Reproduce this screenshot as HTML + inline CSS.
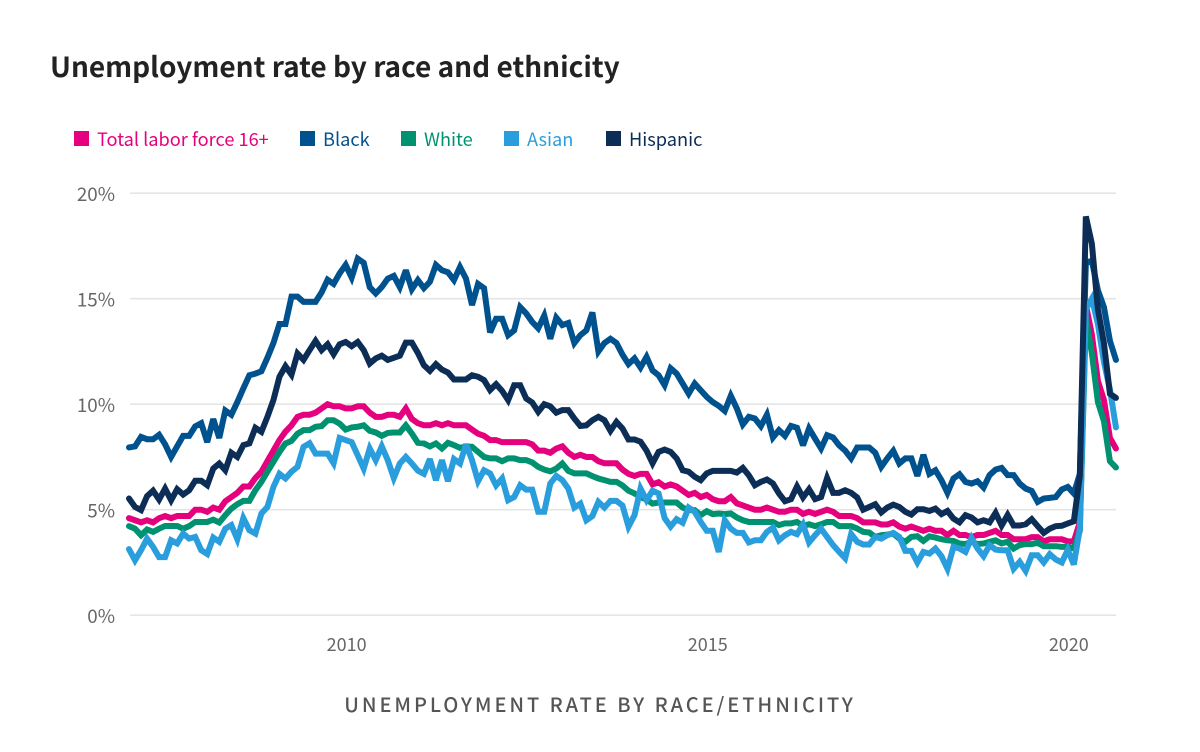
<!DOCTYPE html>
<html lang="en">
<head>
<meta charset="utf-8">
<title>Unemployment rate by race and ethnicity</title>
<style>
html,body{margin:0;padding:0;background:#fff;width:1200px;height:752px;overflow:hidden}
svg{display:block}
text{font-family:"Noto Sans CJK JP","Liberation Sans",sans-serif}
</style>
</head>
<body>
<svg id="chart" xmlns="http://www.w3.org/2000/svg" width="1200" height="752" viewBox="0 0 1200 752">
  <text x="50" y="77" font-size="28" font-weight="700" fill="#222222">Unemployment rate by race and ethnicity</text>
  <g id="grid"></g>
  <g id="yticks"></g>
  <g id="xticks"></g>
  <g id="lines"></g>
  <g id="legend"></g>
  <text x="600" y="712" text-anchor="middle" font-size="20" font-weight="500" letter-spacing="2.95" fill="#555555">UNEMPLOYMENT RATE BY RACE/ETHNICITY</text>
</svg>
<script>
var startYear = 2007;
var yTickValues = [0, 5, 10, 15, 20];
var xTickYears = [2010, 2015, 2020];
var seriesNames = ["Total labor force 16+", "Black", "White", "Asian", "Hispanic"];

var totalRates = [
4.6,4.5,4.4,4.5,4.4,4.6,4.7,4.6,4.7,4.7,4.7,5.0,
5.0,4.9,5.1,5.0,5.4,5.6,5.8,6.1,6.1,6.5,6.8,7.3,
7.8,8.3,8.7,9.0,9.4,9.5,9.5,9.6,9.8,10.0,9.9,9.9,
9.8,9.8,9.9,9.9,9.6,9.4,9.4,9.5,9.5,9.4,9.8,9.3,
9.1,9.0,9.0,9.1,9.0,9.1,9.0,9.0,9.0,8.8,8.6,8.5,
8.3,8.3,8.2,8.2,8.2,8.2,8.2,8.1,7.8,7.8,7.7,7.9,
8.0,7.7,7.5,7.6,7.5,7.5,7.3,7.2,7.2,7.2,6.9,6.7,
6.6,6.7,6.7,6.2,6.3,6.1,6.2,6.1,5.9,5.7,5.8,5.6,
5.7,5.5,5.4,5.4,5.6,5.3,5.2,5.1,5.0,5.0,5.1,5.0,
4.9,4.9,5.0,5.0,4.8,4.9,4.8,4.9,5.0,4.9,4.7,4.7,
4.7,4.6,4.4,4.4,4.4,4.3,4.3,4.4,4.2,4.1,4.2,4.1,
4.0,4.1,4.0,4.0,3.8,4.0,3.8,3.8,3.7,3.8,3.8,3.9,
4.0,3.8,3.8,3.6,3.6,3.6,3.7,3.7,3.5,3.6,3.6,3.6,
3.5,3.5,4.4,14.7,13.3,11.1,10.2,8.4,7.9];

var blackRates = [
7.95,8.0,8.45,8.34,8.34,8.55,8.1,7.5,8.0,8.5,8.5,8.95,
9.1,8.2,9.3,8.4,9.7,9.5,10.1,10.75,11.37,11.45,11.56,12.2,
12.9,13.8,13.8,15.1,15.1,14.85,14.85,14.85,15.3,15.9,15.7,16.2,
16.6,16.0,16.9,16.7,15.55,15.25,15.55,15.95,16.08,15.55,16.35,15.45,
15.88,15.5,15.8,16.6,16.35,16.25,15.88,16.5,15.95,14.7,15.7,15.5,
13.4,14.05,14.05,13.27,13.5,14.6,14.3,13.9,13.6,14.2,13.1,14.1,
13.75,13.85,12.9,13.27,13.5,14.35,12.5,12.9,13.1,12.9,12.35,11.9,
12.17,11.74,12.24,11.6,11.37,10.9,11.7,11.45,10.98,10.5,10.98,10.66,
10.35,10.1,9.92,9.68,10.4,9.8,9.04,9.4,9.32,8.96,9.5,8.42,
8.77,8.5,8.97,8.88,8.05,8.85,8.37,7.9,8.53,8.42,8.05,7.8,
7.43,7.95,7.95,7.95,7.7,7.03,7.43,7.79,7.19,7.43,7.43,6.6,
7.6,6.7,6.87,6.4,5.8,6.48,6.68,6.32,6.24,6.35,6.05,6.64,
6.9,6.98,6.64,6.64,6.24,6.0,5.89,5.37,5.53,5.56,5.6,5.96,
6.08,5.77,6.7,16.7,16.8,15.4,14.6,13.0,12.1];

var whiteRates = [
4.22,4.1,3.79,4.06,3.95,4.1,4.23,4.23,4.23,4.1,4.22,4.42,
4.42,4.42,4.53,4.39,4.74,5.05,5.26,5.42,5.42,5.92,6.32,6.8,
7.27,7.74,8.14,8.26,8.6,8.77,8.77,8.93,8.96,9.24,9.24,9.08,
8.8,8.9,8.93,9.0,8.74,8.66,8.5,8.64,8.66,8.66,9.0,8.61,
8.17,8.14,8.0,8.14,7.9,8.17,8.06,7.93,8.0,7.98,7.74,7.5,
7.43,7.43,7.3,7.43,7.43,7.35,7.35,7.24,7.03,6.9,6.82,6.95,
7.19,6.84,6.72,6.72,6.72,6.59,6.48,6.4,6.32,6.32,6.15,5.9,
5.77,5.6,5.48,5.29,5.34,5.34,5.34,5.34,5.1,4.98,4.98,4.74,
4.93,4.79,4.82,4.79,4.82,4.63,4.5,4.42,4.42,4.42,4.42,4.42,
4.27,4.35,4.35,4.42,4.23,4.31,4.22,4.31,4.42,4.42,4.22,4.22,
4.22,4.11,3.95,3.92,3.71,3.79,3.82,3.87,3.63,3.48,3.71,3.74,
3.52,3.74,3.68,3.6,3.55,3.52,3.4,3.37,3.48,3.37,3.4,3.48,
3.55,3.4,3.48,3.16,3.32,3.37,3.37,3.43,3.27,3.27,3.27,3.24,
3.24,3.16,4.0,14.1,12.4,10.1,9.2,7.3,7.0];

var asianRates = [
3.13,2.6,3.08,3.63,3.24,2.75,2.75,3.55,3.4,3.87,3.63,3.71,
3.08,2.9,3.68,3.48,4.1,4.27,3.6,4.6,4.03,3.87,4.82,5.13,
6.08,6.7,6.48,6.8,7.03,7.98,8.15,7.66,7.66,7.66,7.2,8.4,
8.3,8.2,7.58,6.95,7.9,7.35,8.0,7.35,6.5,7.19,7.5,7.19,
6.85,6.7,7.4,6.4,7.35,6.35,7.4,7.19,8.1,7.35,6.35,6.87,
6.72,6.15,6.48,5.45,5.6,6.16,5.95,5.95,4.9,4.9,6.24,6.6,
6.4,6.0,5.1,5.29,4.5,4.7,5.37,5.1,5.42,5.42,5.2,4.2,
4.74,6.0,5.45,5.9,5.77,4.6,4.2,4.55,4.38,5.1,4.9,4.42,
4.0,4.0,3.0,4.5,4.1,3.9,3.9,3.45,3.55,3.55,3.95,4.15,
3.55,3.79,3.95,3.84,4.3,3.45,3.79,4.1,3.71,3.32,3.0,2.7,
3.85,3.48,3.35,3.35,3.71,3.63,3.79,3.9,3.71,3.05,3.05,2.5,
3.0,2.92,3.16,2.8,2.2,3.24,3.16,3.0,3.66,3.16,2.8,3.32,
3.11,3.08,3.08,2.2,2.53,2.1,2.84,2.84,2.5,2.89,2.64,2.5,
3.1,2.4,4.1,14.5,15.0,13.8,12.0,10.7,8.9];

var hispanicRates = [
5.53,5.13,4.98,5.64,5.9,5.48,6.0,5.45,5.97,5.72,5.92,6.37,
6.37,6.16,6.95,7.19,6.87,7.7,7.5,8.06,8.14,8.88,8.69,9.4,
10.2,11.3,11.8,11.4,12.4,12.1,12.56,13.0,12.56,12.84,12.37,12.84,
12.95,12.75,12.95,12.56,11.93,12.17,12.3,12.1,12.2,12.3,12.92,12.92,
12.43,11.85,11.58,11.9,11.64,11.5,11.17,11.17,11.17,11.37,11.3,11.14,
10.67,10.95,10.63,10.19,10.9,10.9,10.27,10.08,9.64,10.0,9.9,9.6,
9.72,9.72,9.32,8.97,9.0,9.24,9.4,9.24,8.74,9.16,8.85,8.33,
8.33,8.22,7.8,7.2,7.74,7.85,7.74,7.43,6.87,6.8,6.56,6.4,
6.72,6.84,6.84,6.84,6.84,6.76,6.98,6.63,6.16,6.32,6.43,6.24,
5.77,5.4,5.5,6.1,5.58,5.97,5.5,5.6,6.5,5.8,5.8,5.92,
5.8,5.58,5.0,5.13,5.26,4.87,5.1,5.24,5.13,4.9,4.77,5.02,
5.02,4.94,5.05,4.79,4.94,4.58,4.4,4.74,4.63,4.4,4.5,4.4,
4.85,4.25,4.75,4.25,4.25,4.31,4.55,4.22,3.9,4.1,4.22,4.24,
4.35,4.45,6.6,18.9,17.6,14.5,12.9,10.5,10.3];

var NS = "http://www.w3.org/2000/svg";
var seriesData = [totalRates, blackRates, whiteRates, asianRates, hispanicRates];
var seriesColors = ["#e5007d", "#00528f", "#009270", "#2a9edd", "#0b2d56"];
var seriesSlugs = ["total", "black", "white", "asian", "hispanic"];
var legendSquareX = [74, 300, 401, 504, 606];

function xScale(monthIndex) { return 129 + monthIndex * 6.018; }
function yScale(rate) { return 615.2 - rate * 21.1; }
function make(tag, attrs) {
  var el = document.createElementNS(NS, tag);
  for (var k in attrs) { el.setAttribute(k, attrs[k]); }
  return el;
}

yTickValues.forEach(function (v) {
  var line = make("line", { x1: 130, x2: 1116, y1: yScale(v), y2: yScale(v), stroke: "#e5e5e5", "stroke-width": 1.6 });
  
  
  document.getElementById("grid").appendChild(line);
  var label = make("text", { x: 115, y: yScale(v) + 8, "text-anchor": "end", "font-size": 18.8, fill: "#666666" });
  
  
  label.textContent = v + "%";
  document.getElementById("yticks").appendChild(label);
});

xTickYears.forEach(function (yr) {
  var label = make("text", { x: xScale((yr - startYear) * 12) + 1, y: 651, "text-anchor": "middle", "font-size": 18, fill: "#666666" });
  
  
  label.textContent = yr;
  document.getElementById("xticks").appendChild(label);
});

seriesData.forEach(function (values, s) {
  var pts = values.map(function (v, i) { return xScale(i).toFixed(2) + "," + yScale(v).toFixed(2); }).join(" ");
  var line = make("polyline", { points: pts, fill: "none", stroke: seriesColors[s], "stroke-width": 6, "stroke-linejoin": "miter", "stroke-miterlimit": 3, "stroke-linecap": "round" });
  
  
  document.getElementById("lines").appendChild(line);
});

seriesNames.forEach(function (name, s) {
  var sq = make("rect", { x: legendSquareX[s], y: 131, width: 15, height: 15, fill: seriesColors[s] });
  
  
  document.getElementById("legend").appendChild(sq);
  var t = make("text", { x: legendSquareX[s] + 23, y: 146, "font-size": 18.2, fill: seriesColors[s] });
  
  
  t.textContent = name;
  document.getElementById("legend").appendChild(t);
});
</script>
</body>
</html>
